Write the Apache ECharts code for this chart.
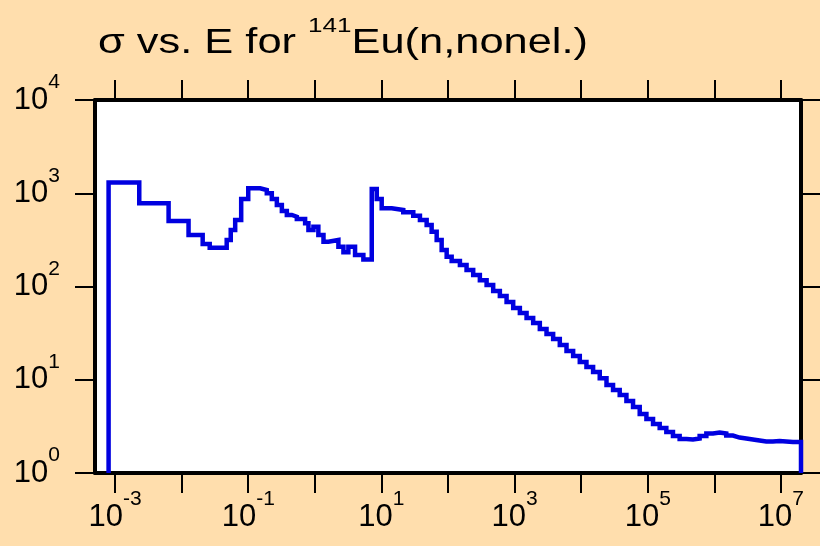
<!DOCTYPE html>
<html>
<head>
<meta charset="utf-8">
<script src="https://cdn.jsdelivr.net/npm/echarts@6/dist/echarts.min.js"></script>
<style>
html,body{margin:0;padding:0;background:#FFDEAD;}
#chart{width:820px;height:546px;}
</style>
</head>
<body>
<div id="chart"></div>
<script>
// Group boundaries (eV) and cross sections (b)
const energyEdges = [
  8.0e-4, 2.31e-3, 6.37e-3, 1.27e-2, 2.07e-2, 2.64e-2, 4.75e-2, 5.46e-2, 6.37e-2, 7.84e-2,
  0.100, 0.151, 0.190, 0.226, 0.269, 0.320, 0.380, 0.452, 0.537, 0.715,
  0.802, 0.953, 1.13, 1.35, 1.60, 2.26, 2.69, 3.19, 4.02, 5.36,
  7.16, 8.51, 10.1, 14.3, 21.3, 30.1, 37.9, 47.8, 56.8, 67.6,
  80.3, 95.5, 113.5, 151, 190, 239, 301, 380, 477, 601,
  758, 953, 1200, 1513, 1901, 2393, 3017, 3793, 4775, 6021,
  7572, 9531, 1.20e4, 1.51e4, 1.90e4, 2.40e4, 3.01e4, 3.79e4, 4.78e4, 6.01e4,
  7.57e4, 9.54e4, 1.20e5, 1.51e5, 1.90e5, 2.39e5, 3.01e5, 3.80e5, 4.77e5, 6.01e5,
  7.58e5, 9.53e5, 1.20e6, 1.51e6, 1.90e6, 2.39e6, 3.02e6, 3.79e6, 4.78e6, 6.02e6,
  7.57e6, 9.53e6, 1.20e7, 1.51e7, 2.0e7
];
const crossSection = [
  1300, 780, 504, 357, 286, 261, 315, 404, 517, 867,
  1130, 1084, 998, 867, 748, 646, 585, 560, 530, 476,
  404, 438, 357, 302, 315, 267, 233, 267, 218, 195,
  1110, 867, 690, 661, 625, 574, 517, 457, 387, 315,
  246, 209, 188, 170, 150, 133, 117, 104, 89.5, 79,
  68, 58.8, 52, 45.9, 40.6, 35, 31, 27.4, 23.6, 20.3,
  18, 15.5, 13.7, 12.1, 10.4, 8.79, 7.76, 6.86, 5.92, 5.1,
  4.29, 3.79, 3.35, 3.04, 2.75, 2.49, 2.32, 2.29, 2.34, 2.49,
  2.65, 2.72, 2.65, 2.52, 2.40, 2.34, 2.29, 2.23, 2.18, 2.18,
  2.20, 2.18, 2.15, 2.15
];
const xTickValues = [1e-3, 1e-2, 1e-1, 1e0, 1e1, 1e2, 1e3, 1e4, 1e5, 1e6, 1e7];
const xLabelValues = [1e-3, 1e-1, 1e1, 1e3, 1e5, 1e7];
const yTickValues = [1, 10, 100, 1000, 10000];
const titleMain = 'σ vs. E for ';
const titleMass = '141';
const titleRest = 'Eu(n,nonel.)';

const baseline = 1;
const seriesData = [[energyEdges[0], baseline]];
for (let i = 0; i < crossSection.length; i++) {
  seriesData.push([energyEdges[i + 1], crossSection[i]]);
}
seriesData.push([energyEdges[energyEdges.length - 1], baseline]);

const FONT = 'Liberation Sans';
const richLabel = {
  b: {fontSize: 31, fontFamily: FONT, fontWeight: 'normal', color: '#000', lineHeight: 56, verticalAlign: 'middle'},
  s: {fontSize: 21, fontFamily: FONT, fontWeight: 'normal', color: '#000', lineHeight: 30, verticalAlign: 'top'}
};
function powLabel(v) {
  const e = Math.round(Math.log10(v));
  if (Math.abs(Math.log10(v) - e) > 1e-6) return '';
  return '{b|10}{s|' + e + '}';
}
const tickStyle = {show: true, inside: false, length: 20, lineStyle: {color: '#000', width: 2}};
const lineStyleAxis = {show: true, lineStyle: {color: '#000', width: 4}};

const chart = echarts.init(document.getElementById('chart'), null, {renderer: 'canvas'});
chart.setOption({
  backgroundColor: '#FFDEAD',
  animation: false,
  graphic: [{
    type: 'text',
    x: 98, y: 15.5,
    scaleX: 1.24,
    z: 10,
    style: {
      text: '{t|' + titleMain + '}{s|' + titleMass + '}{t|' + titleRest + '}',
      align: 'left',
      verticalAlign: 'top',
      fill: '#000',
      rich: {
        t: {fontSize: 35, fontFamily: FONT, fontWeight: 'normal', fill: '#000', color: '#000', lineHeight: 56, verticalAlign: 'middle'},
        s: {fontSize: 21, fontFamily: FONT, fontWeight: 'normal', fill: '#000', color: '#000', lineHeight: 16, verticalAlign: 'top'}
      }
    }
  }],
  grid: {left: 95, right: 19, top: 100, bottom: 73, show: true, backgroundColor: '#fff', borderWidth: 0, outerBoundsMode: 'none', containLabel: false},
  xAxis: [
    {
      type: 'log', logBase: 10, min: 5e-4, max: 2e7, position: 'bottom',
      axisLine: lineStyleAxis,
      axisTick: Object.assign({customValues: xTickValues}, tickStyle),
      minorTick: {show: false},
      splitLine: {show: false},
      axisLabel: {customValues: xLabelValues, formatter: powLabel, margin: 16, rich: richLabel}
    },
    {
      type: 'log', logBase: 10, min: 5e-4, max: 2e7, position: 'top',
      axisLine: lineStyleAxis,
      axisTick: Object.assign({customValues: xTickValues}, tickStyle),
      splitLine: {show: false},
      axisLabel: {show: false}
    }
  ],
  yAxis: [
    {
      type: 'log', logBase: 10, min: 1, max: 1e4, position: 'left',
      axisLine: lineStyleAxis,
      axisTick: Object.assign({customValues: yTickValues}, tickStyle),
      splitLine: {show: false},
      axisLabel: {customValues: yTickValues, formatter: powLabel, margin: 35, rich: richLabel}
    },
    {
      type: 'log', logBase: 10, min: 1, max: 1e4, position: 'right',
      axisLine: lineStyleAxis,
      axisTick: Object.assign({customValues: yTickValues}, tickStyle),
      splitLine: {show: false},
      axisLabel: {show: false}
    }
  ],
  series: [{
    type: 'line',
    xAxisIndex: 0, yAxisIndex: 0,
    step: 'start',
    data: seriesData,
    showSymbol: false,
    symbol: 'none',
    lineStyle: {color: '#0000E0', width: 4.5, join: 'miter'},
    z: 1
  }]
});
</script>
</body>
</html>
